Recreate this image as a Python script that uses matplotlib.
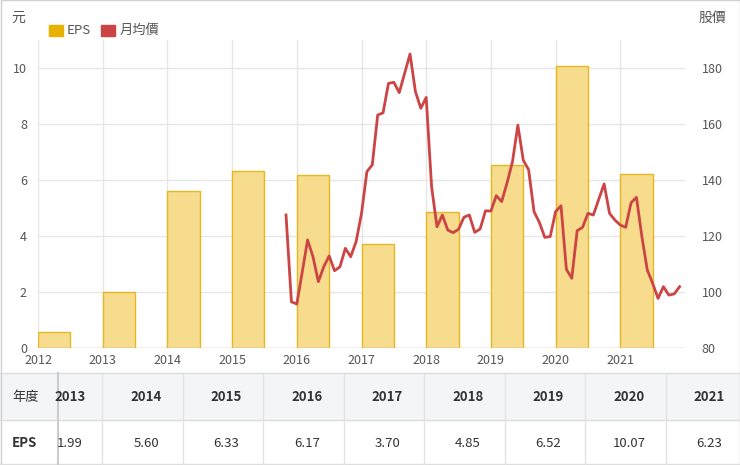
import matplotlib.pyplot as plt
from matplotlib.patches import Rectangle
import numpy as np

plt.rcParams['font.family'] = ['Noto Sans CJK TC', 'DejaVu Sans']

years = [2012, 2013, 2014, 2015, 2016, 2017, 2018, 2019, 2020, 2021]
eps = [0.58, 1.99, 5.60, 6.33, 6.17, 3.70, 4.85, 6.52, 10.07, 6.23]

# 月均價, 2015-11 起
price = [127.5, 96.5, 95.7, 107, 118.6, 112.6, 103.7, 109, 112.9, 107.6, 109, 115.6,
         112.6, 118, 128, 143, 145.4, 163.2, 164, 174.5, 174.9, 171.2, 178.1, 185,
         171.6, 165.6, 169.5, 137.6, 123.3, 127.5, 122.1, 121.2, 122.4, 126.7, 127.5, 121.3,
         122.5, 129, 128.9, 134.4, 132.3, 139, 146.5, 159.6, 147.1, 143.6, 128.7, 124.8,
         119.5, 119.8, 128.7, 130.8, 108.1, 104.9, 121.9, 123.1, 128.1, 127.5, 133.1, 138.6,
         128.1, 125.7, 123.9, 123.1, 131.9, 133.8, 119.8, 107.9, 103.1, 97.7, 101.9, 98.9,
         99.3, 101.9]
price_x = 2015 + 10 / 12 + np.arange(len(price)) / 12

tbl_years = ["2013", "2014", "2015", "2016", "2017", "2018", "2019", "2020", "2021"]
tbl_eps = ["1.99", "5.60", "6.33", "6.17", "3.70", "4.85", "6.52", "10.07", "6.23"]

W, H = 740, 465
fig = plt.figure(figsize=(W / 100, H / 100), dpi=100)
ax = fig.add_axes([38 / W, (H - 348) / H, 647 / W, 308 / H])
ax2 = ax.twinx()

ax.bar(np.array(years) + 0.25, eps, width=0.5, color='#f7dc8e', edgecolor='#e4b820', linewidth=1)
ax2.plot(price_x, price, color='#cc4444', lw=2)

ax.set_xlim(2012, 2022)
ax.set_ylim(0, 11)
ax2.set_ylim(80, 190)
ax.set_xticks(years)
ax.set_yticks(range(0, 11, 2))
ax2.set_yticks(range(80, 181, 20))
ax.grid(True, color='#e6e6e6', lw=1)
ax.set_axisbelow(True)
for a in (ax, ax2):
    for s in a.spines.values():
        s.set_visible(False)
    a.tick_params(length=0, labelsize=9, colors='#555555')
ax.tick_params(axis='y', pad=8)
ax.tick_params(axis='x', pad=4)
ax2.tick_params(axis='y', pad=12)
ax.axhline(0, color='#f0b8c0', lw=1)

fig.text(25 / W, 1 - 18 / H, '元', ha='right', va='center', fontsize=10, color='#555555')
fig.text(712 / W, 1 - 18 / H, '股價', ha='center', va='center', fontsize=10, color='#555555')
# legend
fig.patches.append(Rectangle((49 / W, 1 - 36 / H), 14 / W, 11 / H, transform=fig.transFigure,
                             color='#e8b100'))
fig.text(67 / W, 1 - 30 / H, 'EPS', va='center', fontsize=9.5, color='#555555')
fig.patches.append(Rectangle((101 / W, 1 - 36 / H), 14 / W, 11 / H, transform=fig.transFigure,
                             color='#cc4444'))
fig.text(120 / W, 1 - 30 / H, '月均價', va='center', fontsize=9.5, color='#555555')

# table
tx = fig.add_axes([0, 0, 1, 1], facecolor='none')
tx.set_xlim(0, W)
tx.set_ylim(H, 0)
tx.axis('off')
tx.add_patch(Rectangle((0, 373), W, 47, color='#f4f5f7', zorder=0))
tx.plot([0, W], [373, 373], color='#dddddd', lw=1)
tx.plot([0, W], [420, 420], color='#dddddd', lw=1)
tx.plot([0, W], [464, 464], color='#dddddd', lw=1)
tx.plot([58, 58], [373, 464], color='#cccccc', lw=1.5)
edges = [102 + 80.5 * i for i in range(8)]
for e in edges:
    tx.plot([e, e], [373, 464], color='#e3e3e3', lw=1)
tx.text(12, 397, '年度', va='center', fontsize=9.5, color='#333333')
tx.text(12, 443, 'EPS', va='center', fontsize=9.5, color='#333333', fontweight='bold')
clip = Rectangle((59, 373), 44, 92, transform=tx.transData)
t1 = tx.text(70, 397, tbl_years[0], ha='center', va='center', fontsize=9.5, fontweight='bold', color='#333333')
t2 = tx.text(70, 443, tbl_eps[0], ha='center', va='center', fontsize=9.5, color='#333333')
t1.set_clip_path(clip)
t2.set_clip_path(clip)
for i in range(1, len(tbl_years)):
    cx = 102 + 80.5 * (i - 1) + 44
    tx.text(cx, 397, tbl_years[i], ha='center', va='center', fontsize=9.5, fontweight='bold', color='#333333')
    tx.text(cx, 443, tbl_eps[i], ha='center', va='center', fontsize=9.5, color='#333333')
tx.add_patch(Rectangle((0.5, 0.5), W - 1, H - 1, fill=False, edgecolor='#d0d0d0', lw=1))

fig.savefig('out.png', dpi=100)
